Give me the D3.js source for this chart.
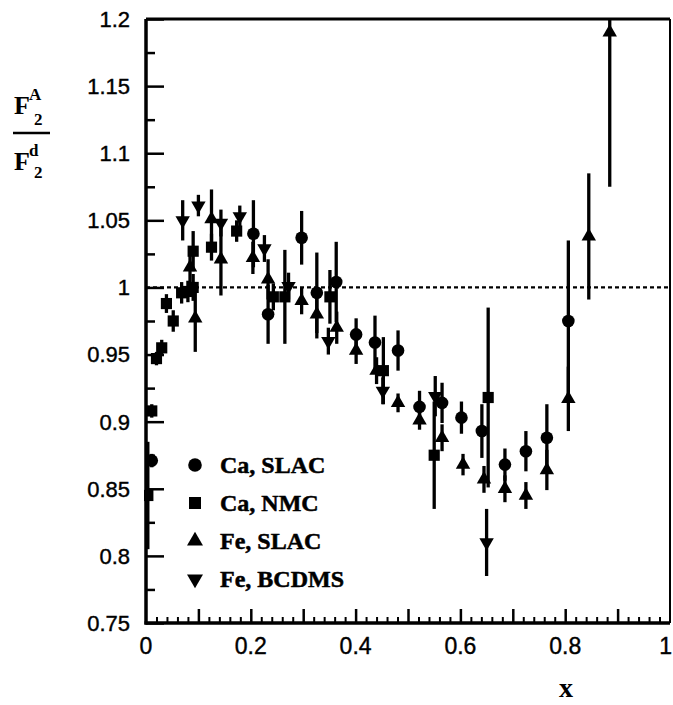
<!DOCTYPE html>
<html>
<head>
<meta charset="utf-8">
<script src="https://cdn.jsdelivr.net/npm/d3@7"></script>
<style>
  body { margin: 0; background: #fff; }
  svg { display: block; }
</style>
</head>
<body>
<div id="chart"></div>
<script>
// === DONNÉES ===
const xTicks = [0, 0.2, 0.4, 0.6, 0.8, 1];
const yTicks = [0.75, 0.8, 0.85, 0.9, 0.95, 1, 1.05, 1.1, 1.15, 1.2];

// Ca, SLAC (cercles)
const caSlacX   = [0.011, 0.205, 0.233, 0.297, 0.326, 0.363, 0.401, 0.437, 0.481, 0.522, 0.565, 0.602, 0.641, 0.685, 0.725, 0.765, 0.806];
const caSlacY   = [0.871, 1.040, 0.980, 1.037, 0.996, 1.004, 0.965, 0.959, 0.953, 0.911, 0.914, 0.903, 0.893, 0.868, 0.878, 0.888, 0.975];
const caSlacErr = [0.005, 0.025, 0.022, 0.020, 0.030, 0.030, 0.012, 0.020, 0.015, 0.012, 0.015, 0.012, 0.020, 0.012, 0.015, 0.025, 0.060];

// Ca, NMC (carrés)
const caNmcX   = [0.0035, 0.011, 0.020, 0.030, 0.039, 0.052, 0.068, 0.080, 0.090, 0.090, 0.125, 0.173, 0.243, 0.265, 0.351, 0.453, 0.550, 0.653];
const caNmcY   = [0.845, 0.908, 0.947, 0.955, 0.988, 0.975, 0.996, 0.997, 1.027, 1.000, 1.030, 1.042, 0.993, 0.993, 0.993, 0.938, 0.875, 0.918];
const caNmcErr = [0.040, 0.005, 0.005, 0.006, 0.007, 0.008, 0.008, 0.008, 0.015, 0.010, 0.010, 0.008, 0.010, 0.035, 0.020, 0.025, 0.040, 0.067];

// Fe, SLAC (triangles)
const feSlacX   = [0.084, 0.094, 0.125, 0.143, 0.204, 0.233, 0.297, 0.326, 0.364, 0.401, 0.440, 0.481, 0.522, 0.565, 0.605, 0.645, 0.685, 0.725, 0.765, 0.806, 0.845, 0.885];
const feSlacY   = [1.015, 0.977, 1.051, 1.021, 1.022, 1.006, 0.990, 0.980, 0.970, 0.953, 0.938, 0.914, 0.901, 0.888, 0.868, 0.857, 0.850, 0.845, 0.864, 0.917, 1.038, 1.190];
const feSlacErr = [0.012, 0.025, 0.022, 0.027, 0.012, 0.015, 0.010, 0.018, 0.012, 0.010, 0.010, 0.007, 0.007, 0.010, 0.008, 0.010, 0.010, 0.010, 0.015, 0.024, 0.047, 0.115];

// Fe, BCDMS (triangles inversés)
const feBcdmsX   = [0.070, 0.100, 0.143, 0.179, 0.226, 0.272, 0.348, 0.452, 0.552, 0.650];
const feBcdmsY   = [1.050, 1.061, 1.048, 1.053, 1.029, 1.001, 0.960, 0.923, 0.919, 0.810];
const feBcdmsErr = [0.015, 0.008, 0.010, 0.008, 0.010, 0.010, 0.010, 0.010, 0.015, 0.025];

const seriesNames = ["Ca, SLAC", "Ca, NMC", "Fe, SLAC", "Fe, BCDMS"];

// === CONFIGURATION ===
const W = 673, H = 705;
const margin = { top: 19, right: 3, bottom: 82, left: 146 };
const width = W - margin.left - margin.right;
const height = H - margin.top - margin.bottom;
const numFont = "'Liberation Sans', Arial, sans-serif";
const serifFont = "'Liberation Serif', 'Times New Roman', serif";

const svg = d3.select("#chart").append("svg")
  .attr("width", W)
  .attr("height", H);

const g = svg.append("g")
  .attr("transform", `translate(${margin.left},${margin.top})`);

const x = d3.scaleLinear().domain([0, 1]).range([0, width]);
const y = d3.scaleLinear().domain([0.75, 1.2]).range([height, 0]);

g.append("clipPath").attr("id", "clip")
  .append("rect").attr("x", -2).attr("y", 0).attr("width", width + 4).attr("height", height);

// === AXE Y (ticks vers l'intérieur) ===
const yMinor = d3.range(0.775, 1.2, 0.05);
g.append("g")
  .call(d3.axisRight(y).tickValues(yMinor).tickSize(9).tickFormat(""))
  .call(a => a.select(".domain").remove())
  .selectAll("line").attr("stroke", "#000").attr("stroke-width", 2.5);

g.append("g")
  .call(d3.axisRight(y).tickValues(yTicks).tickSize(18).tickFormat(""))
  .call(a => a.select(".domain").remove())
  .selectAll("line").attr("stroke", "#000").attr("stroke-width", 2.5);

g.append("g").selectAll("text")
  .data(yTicks)
  .enter().append("text")
  .attr("x", -16)
  .attr("y", d => y(d))
  .attr("dy", "0.36em")
  .attr("text-anchor", "end")
  .style("font-family", numFont)
  .style("font-size", "22px")
  .style("stroke", "#000")
  .style("stroke-width", 0.4)
  .text(d => d3.format("~g")(d));

// === AXE X (ticks vers l'intérieur) ===
const xMinor = d3.range(0.02, 1, 0.02).filter(v => Math.abs(v * 10 - Math.round(v * 10)) > 1e-6);
g.append("g")
  .attr("transform", `translate(0,${height})`)
  .call(d3.axisTop(x).tickValues(xMinor).tickSize(6).tickFormat(""))
  .call(a => a.select(".domain").remove())
  .selectAll("line").attr("stroke", "#000").attr("stroke-width", 2);

g.append("g")
  .attr("transform", `translate(0,${height})`)
  .call(d3.axisTop(x).tickValues(d3.range(0.1, 1, 0.1)).tickSize(14).tickFormat(""))
  .call(a => a.select(".domain").remove())
  .selectAll("line").attr("stroke", "#000").attr("stroke-width", 2.5);

g.append("g").selectAll("text")
  .data(xTicks)
  .enter().append("text")
  .attr("x", d => d === 1 ? x(d) + 2 : x(d))
  .attr("y", height + 31)
  .attr("text-anchor", d => d === 1 ? "end" : "middle")
  .style("font-family", numFont)
  .style("font-size", "23px")
  .style("stroke", "#000")
  .style("stroke-width", 0.4)
  .text(d => d3.format("~g")(d));

// === CADRE ===
g.append("line").attr("x1", 0).attr("x2", width).attr("y1", 0).attr("y2", 0)
  .attr("stroke", "#000").attr("stroke-width", 3);
g.append("line").attr("x1", width).attr("x2", width).attr("y1", 0).attr("y2", height)
  .attr("stroke", "#000").attr("stroke-width", 2);
g.append("line").attr("x1", 0).attr("x2", 0).attr("y1", 0).attr("y2", height + 1.5)
  .attr("stroke", "#000").attr("stroke-width", 3.5);
g.append("line").attr("x1", -1.5).attr("x2", width).attr("y1", height).attr("y2", height)
  .attr("stroke", "#000").attr("stroke-width", 3.5);

// === LIGNE y = 1 ===
g.append("line")
  .attr("x1", 0).attr("x2", width)
  .attr("y1", y(1)).attr("y2", y(1))
  .attr("stroke", "#000")
  .attr("stroke-width", 2.2)
  .attr("stroke-dasharray", "4,3");

// === POINTS + BARRES D'ERREUR ===
const symbols = [
  { type: d3.symbolCircle, size: 125, rot: 0 },
  { type: d3.symbolSquare, size: 125, rot: 0 },
  { type: d3.symbolTriangle, size: 90, rot: 0 },
  { type: d3.symbolTriangle, size: 90, rot: 180 }
];

const allSeries = [
  { xs: caSlacX, ys: caSlacY, es: caSlacErr },
  { xs: caNmcX, ys: caNmcY, es: caNmcErr },
  { xs: feSlacX, ys: feSlacY, es: feSlacErr },
  { xs: feBcdmsX, ys: feBcdmsY, es: feBcdmsErr }
];

const plot = g.append("g").attr("clip-path", "url(#clip)");

allSeries.forEach((s, k) => {
  const pts = s.xs.map((v, i) => ({ x: v, y: s.ys[i], e: s.es[i] }));
  const grp = plot.append("g");

  grp.selectAll("line.err")
    .data(pts)
    .enter().append("line")
    .attr("class", "err")
    .attr("x1", d => x(d.x)).attr("x2", d => x(d.x))
    .attr("y1", d => y(d.y - d.e)).attr("y2", d => y(d.y + d.e))
    .attr("stroke", "#000")
    .attr("stroke-width", 3.3);

  grp.selectAll("path.mk")
    .data(pts)
    .enter().append("path")
    .attr("class", "mk")
    .attr("d", d3.symbol().type(symbols[k].type).size(symbols[k].size))
    .attr("transform", d => `translate(${x(d.x)},${y(d.y)}) rotate(${symbols[k].rot})`)
    .attr("fill", "#000");
});

// === LÉGENDE ===
const legend = g.append("g")
  .attr("transform", `translate(${195 - margin.left},${465 - margin.top})`);

seriesNames.forEach((name, k) => {
  const row = legend.append("g").attr("transform", `translate(0,${k * 38})`);
  row.append("path")
    .attr("d", d3.symbol().type(symbols[k].type).size(symbols[k].size + 20))
    .attr("transform", `rotate(${symbols[k].rot})`)
    .attr("fill", "#000");
  row.append("text")
    .attr("x", 25)
    .attr("y", 8)
    .style("font-family", serifFont)
    .style("font-weight", "bold")
    .style("font-size", "24px")
    .style("stroke", "#000")
    .style("stroke-width", 0.5)
    .text(name);
});

// === TITRES DES AXES ===
svg.append("text")
  .attr("x", 566)
  .attr("y", 697)
  .attr("text-anchor", "middle")
  .style("font-family", serifFont)
  .style("font-weight", "bold")
  .style("font-size", "28px")
  .text("x");

const yTitle = svg.append("g")
  .style("font-family", serifFont)
  .style("font-weight", "bold");

const num = yTitle.append("text").attr("x", 14).attr("y", 114).style("font-size", "26px");
num.append("tspan").text("F");
num.append("tspan").attr("dy", -14).attr("dx", -1).style("font-size", "17px").text("A");
num.append("tspan").attr("x", 34).attr("y", 125).style("font-size", "17px").text("2");

yTitle.append("line")
  .attr("x1", 13).attr("x2", 50)
  .attr("y1", 133).attr("y2", 133)
  .attr("stroke", "#000").attr("stroke-width", 2.5);

const den = yTitle.append("text").attr("x", 14).attr("y", 170).style("font-size", "26px");
den.append("tspan").text("F");
den.append("tspan").attr("dy", -14).attr("dx", -1).style("font-size", "17px").text("d");
den.append("tspan").attr("x", 34).attr("y", 178).style("font-size", "17px").text("2");
</script>
</body>
</html>
